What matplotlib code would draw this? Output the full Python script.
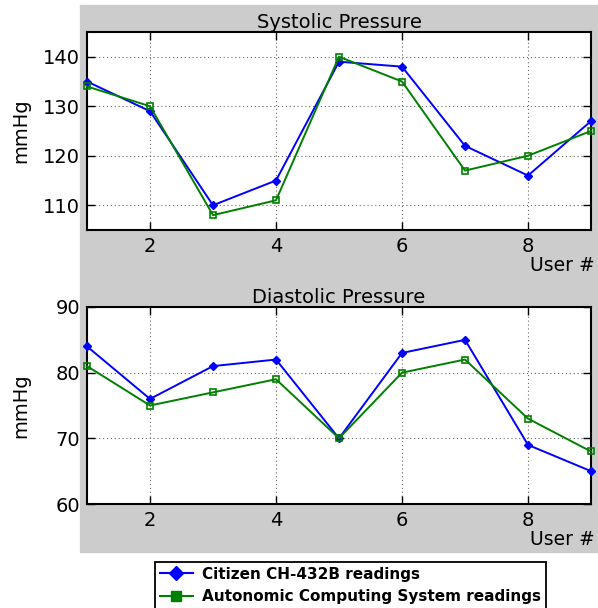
import matplotlib
matplotlib.use('Agg')
import matplotlib.pyplot as plt
from matplotlib.patches import Rectangle
from matplotlib.lines import Line2D

users = [1, 2, 3, 4, 5, 6, 7, 8, 9]
sys_citizen = [135, 129, 110, 115, 139, 138, 122, 116, 127]
sys_acs = [134, 130, 108, 111, 140, 135, 117, 120, 125]
dia_citizen = [84, 76, 81, 82, 70, 83, 85, 69, 65]
dia_acs = [81, 75, 77, 79, 70, 80, 82, 73, 68]

fig = plt.figure(figsize=(5.98, 6.08), dpi=100)
# gray background behind the plots
fig.patches.append(Rectangle((80/598, 1-552/608), 1-80/598, (552-5)/608,
                             transform=fig.transFigure, color='#cccccc', zorder=-5))

ax1 = fig.add_axes([87/598, 1-230/608, 504/598, 198/608])
ax2 = fig.add_axes([87/598, 1-504/608, 504/598, 197/608])

def style(ax, title, ylim, yticks):
  ax.set_xlim(1, 9)
  ax.set_ylim(*ylim)
  ax.set_xticks([2, 4, 6, 8])
  ax.set_yticks(yticks)
  ax.grid(True, linestyle=(0, (1, 2.5)), color='#666666', linewidth=0.8)
  ax.tick_params(direction='in', top=True, right=True, length=6, width=1, labelsize=14, pad=5)
  ax.set_title(title, fontsize=14, pad=3)
  ax.set_xlabel('User #', loc='right', fontsize=13.5, labelpad=1)
  ax.xaxis.set_label_coords(1.008, -0.13, )
  ax.xaxis.label.set_ha('right')
  ax.set_ylabel('mmHg', fontsize=14)
  ax.yaxis.set_label_coords(-0.112, 0.5)
  for s in ax.spines.values():
    s.set_linewidth(1.5)

for ax, c, a in [(ax1, sys_citizen, sys_acs), (ax2, dia_citizen, dia_acs)]:
  ax.plot(users, c, color='#0000ff', marker='D', markersize=4.5, linewidth=1.4, clip_on=False, zorder=3)
  ax.plot(users, a, color='#008000', marker='s', markersize=5, markerfacecolor='none',
          markeredgewidth=1.2, linewidth=1.4, clip_on=False, zorder=3)

style(ax1, 'Systolic Pressure', (105, 145), [110, 120, 130, 140])
style(ax2, 'Diastolic Pressure', (60, 90), [60, 70, 80, 90])

handles = [Line2D([], [], color='#0000ff', marker='D', markersize=7, linewidth=1.5),
           Line2D([], [], color='#008000', marker='s', markersize=7, linewidth=1.5)]
leg = fig.legend(handles, ['Citizen CH-432B readings', 'Autonomic Computing System readings'],
                 loc='upper left', bbox_to_anchor=(155/598, 1-562/608), fancybox=False,
                 framealpha=1, edgecolor='black', prop={'weight': 'bold', 'size': 11},
                 borderpad=0.3, labelspacing=0.5, handlelength=2.2, handletextpad=0.6,
                 borderaxespad=0)
leg.get_frame().set_linewidth(1.3)

fig.savefig('out.png', dpi=100)
